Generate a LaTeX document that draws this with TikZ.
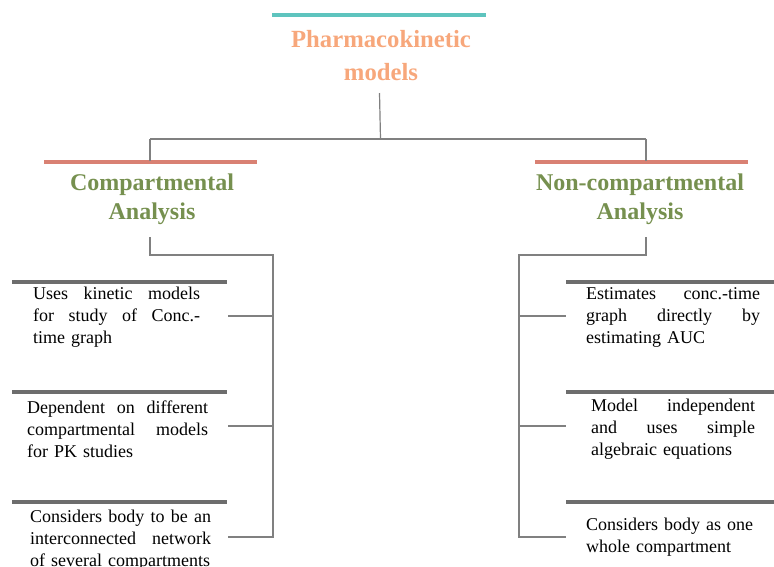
\documentclass[tikz,border=0pt]{standalone}
\usepackage{fontspec}
\setmainfont{Liberation Serif}
\definecolor{teal1}{HTML}{5EC4BE}
\definecolor{salmon1}{HTML}{F7A77B}
\definecolor{green1}{HTML}{76904F}
\definecolor{red1}{HTML}{D98173}
\definecolor{gray1}{HTML}{6D6D6D}
\definecolor{gray2}{HTML}{808080}
\newcommand{\jl}[2]{\leavevmode\hbox to #1{#2}}
\begin{document}
\begin{tikzpicture}[x=1pt,y=-1pt,
  titletext/.style={inner sep=0pt,anchor=north,align=center,text=salmon1,font=\fontsize{24.7}{33}\selectfont\bfseries},
  headtext/.style={inner sep=0pt,anchor=north,align=center,text=green1,font=\fontsize{24}{29}\selectfont\bfseries},
  bodytext/.style={inner sep=0pt,anchor=north west,align=left,font=\fontsize{18}{22}\selectfont},
  conn/.style={draw=gray2,line width=1.2pt},
  tealbar/.style={draw=teal1,line width=3.2pt},
  redbar/.style={draw=red1,line width=3.2pt},
  graybar/.style={draw=gray1,line width=3.2pt}]
\useasboundingbox (0,0) rectangle (774,566);
% top
\draw[tealbar] (272,15) -- (486,15);
\node[titletext] (title) at (381,23.9) {\strut Pharmacokinetic\\models};
\coordinate (tb) at (379.5,93);
\coordinate (tj) at (380.5,139);
\coordinate (lj) at (150,139);
\coordinate (rj) at (646,139);
\draw[conn] (tb) -- (tj);
\draw[conn] (lj) -- (rj);
% left heading
\draw[redbar] (44,162) -- (257,162);
\coordinate (lbar) at (150,161);
\draw[conn] (lj) -- (lbar);
\node[headtext] (comp) at (152,169.7) {\strut Compartmental\\Analysis};
% right heading
\draw[redbar] (535,162) -- (748,162);
\coordinate (rbar) at (646,161);
\draw[conn] (rj) -- (rbar);
\node[headtext] (ncomp) at (640,169.7) {\strut Non-compartmental\\Analysis};
% left tree
\coordinate (la) at (150,237);
\coordinate (lb) at (150,255);
\coordinate (lc) at (273,255);
\coordinate (ld) at (273,537);
\coordinate (l1) at (273,316);
\coordinate (l2) at (273,426);
\coordinate (l1e) at (228,316);
\coordinate (l2e) at (228,426);
\coordinate (l3e) at (228,537);
\draw[conn] (la) -- (lb) -- (lc) -- (ld) -- (l3e);
\draw[conn] (l1) -- (l1e);
\draw[conn] (l2) -- (l2e);
% right tree
\coordinate (ra) at (646,237);
\coordinate (rb) at (646,255);
\coordinate (rc) at (519,255);
\coordinate (rd) at (519,537);
\coordinate (r1) at (519,316);
\coordinate (r2) at (519,426);
\coordinate (r1e) at (566,316);
\coordinate (r2e) at (566,426);
\coordinate (r3e) at (566,537);
\draw[conn] (ra) -- (rb) -- (rc) -- (rd) -- (r3e);
\draw[conn] (r1) -- (r1e);
\draw[conn] (r2) -- (r2e);
% gray bars
\draw[graybar] (12,282) -- (227,282);
\draw[graybar] (12,392) -- (227,392);
\draw[graybar] (12,502) -- (227,502);
\draw[graybar] (566,282) -- (774,282);
\draw[graybar] (566,392) -- (774,392);
\draw[graybar] (566,502) -- (774,502);
% left texts
\node[bodytext,text width=167pt] (lt1) at (33,283.6) {\strut\jl{167pt}{Uses\hfill kinetic\hfill models}\\\jl{167pt}{for\hfill study\hfill of\hfill Conc.-}\\time graph};
\node[bodytext,text width=181pt] (lt2) at (27,397.6) {\strut\jl{181pt}{Dependent\hfill on\hfill different}\\\jl{181pt}{compartmental\hfill models}\\for PK studies};
\node[bodytext,text width=181pt] (lt3) at (30,506.6) {\strut\jl{181pt}{Considers\hfill body\hfill to\hfill be\hfill an}\\\jl{181pt}{interconnected\hfill network}\\of several compartments};
% right texts
\node[bodytext,text width=174pt] (rt1) at (586,283.6) {\strut\jl{174pt}{Estimates\hfill conc.-time}\\\jl{174pt}{graph\hfill directly\hfill by}\\estimating AUC};
\node[bodytext,text width=164pt] (rt2) at (591,395.6) {\strut\jl{164pt}{Model\hfill independent}\\\jl{164pt}{and\hfill uses\hfill simple}\\algebraic equations};
\node[bodytext,text width=174pt] (rt3) at (586,514.6) {\strut Considers body as one\\whole compartment};
\end{tikzpicture}
\end{document}
